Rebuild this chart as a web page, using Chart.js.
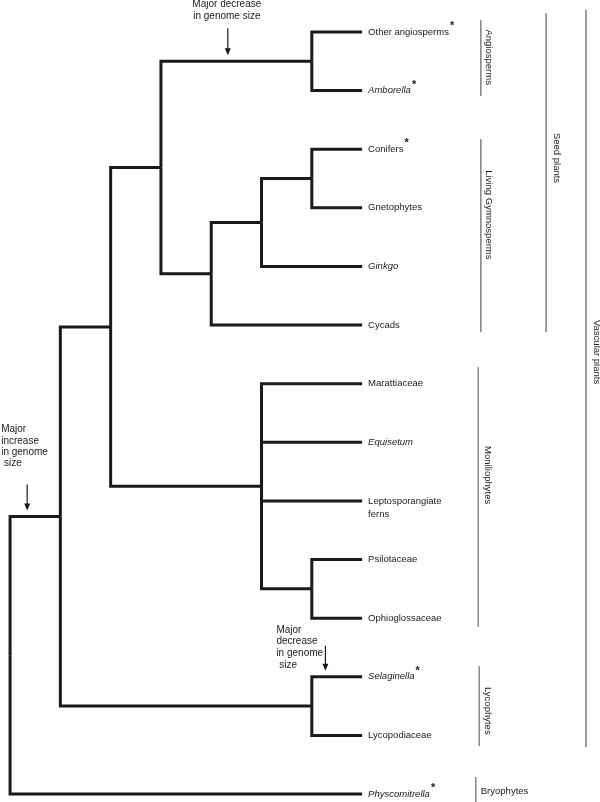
<!DOCTYPE html>
<html lang="en">
<head>
<meta charset="UTF-8">
<title>Land plant phylogeny</title>
<script src="https://cdn.jsdelivr.net/npm/chart.js"></script>
<style>
  html, body { margin: 0; padding: 0; background: #fff; }
  #wrap { width: 600px; height: 802px; }
</style>
</head>
<body>
<div id="wrap"><canvas id="tree" width="600" height="802"></canvas></div>
<script>
// tips, top to bottom (row = index)
const taxa = ['Other angiosperms', 'Amborella', 'Conifers', 'Gnetophytes', 'Ginkgo', 'Cycads',
  'Marattiaceae', 'Equisetum', 'Leptosporangiate\nferns', 'Psilotaceae', 'Ophioglossaceae',
  'Selaginella', 'Lycopodiaceae', 'Physcomitrella'];
const italicTaxa = ['Amborella', 'Ginkgo', 'Equisetum', 'Selaginella', 'Physcomitrella'];
const starredTaxa = ['Other angiosperms', 'Amborella', 'Conifers', 'Selaginella', 'Physcomitrella'];
const leafDepth = 7;

// internal nodes
const nodeIds = ['angio', 'coniGneto', 'gnetoGinkgo', 'gymno', 'seed', 'psiloOphio', 'monilo',
  'euphyllo', 'lyco', 'vascular', 'root'];
const nodeDepths = [6, 6, 5, 4, 3, 6, 5, 2, 6, 1, 0];
const nodeChildren = [
  ['Other angiosperms', 'Amborella'],
  ['Conifers', 'Gnetophytes'],
  ['coniGneto', 'Ginkgo'],
  ['gnetoGinkgo', 'Cycads'],
  ['angio', 'gymno'],
  ['Psilotaceae', 'Ophioglossaceae'],
  ['Marattiaceae', 'Equisetum', 'Leptosporangiate\nferns', 'psiloOphio'],
  ['seed', 'monilo'],
  ['Selaginella', 'Lycopodiaceae'],
  ['euphyllo', 'lyco'],
  ['vascular', 'Physcomitrella']
];

// clade bars on the right, spans in row units
const cladeNames = ['Angiosperms', 'Living Gymnosperms', 'Moniliophytes', 'Lycophytes', 'Bryophytes',
  'Seed plants', 'Vascular plants'];
const cladeStart = [-0.2, 1.83, 5.72, 10.82, 12.71, -0.32, -0.38];
const cladeEnd = [1.09, 5.12, 10.15, 12.18, 13.3, 5.12, 12.2];
const cladeLabelRow = [0.43, 3.12, 7.56, 11.58, 12.95, 2.15, 5.46];

// genome size events, placed on the branch leading to a node
const eventText = [['Major decrease', 'in genome size'], ['Major', 'increase', 'in genome', ' size'],
  ['Major', 'decrease', 'in genome', ' size']];
const eventBranch = ['angio', 'vascular', 'Selaginella'];
const eventDepth = [4.33, 0.34, 6.27];

// styles
const cladeBarX = [9.36, 9.36, 9.31, 9.33, 9.26, 10.66, 11.45];
const cladeLabelDx = [8, 8, 9, 8, 5, 10, 11];
const eventStyle = [
  { align: 'center', dx: -1, dy: -57, lh: 11.5, top: -33 },
  { align: 'left', dx: -26, dy: -87, lh: 11.4, top: -32 },
  { align: 'left', dx: -49, dy: -47, lh: 11.7, top: -31 }
];
const FONT = '"Liberation Sans", Arial, sans-serif';
const INK = '#1a1a1a';

function posOf(name) {
  const t = taxa.indexOf(name);
  if (t >= 0) return { x: leafDepth, y: t };
  const i = nodeIds.indexOf(name);
  const kids = nodeChildren[i];
  const a = posOf(kids[0]), b = posOf(kids[kids.length - 1]);
  return { x: nodeDepths[i], y: (a.y + b.y) / 2 };
}

const datasets = [];
nodeIds.forEach((id, i) => {
  const p = posOf(id);
  nodeChildren[i].forEach(c => {
    const q = posOf(c);
    datasets.push({
      data: [{ x: p.x, y: p.y }, { x: p.x, y: q.y }, { x: q.x, y: q.y }],
      borderColor: INK, borderWidth: 3, borderJoinStyle: 'miter', borderCapStyle: 'butt'
    });
  });
});
cladeNames.forEach((n, i) => {
  datasets.push({
    data: [{ x: cladeBarX[i], y: cladeStart[i] }, { x: cladeBarX[i], y: cladeEnd[i] }],
    borderColor: '#8a8a8a', borderWidth: 1
  });
});

const labelsPlugin = {
  id: 'treeLabels',
  afterDatasetsDraw(chart) {
    const ctx = chart.ctx, xs = chart.scales.x, ys = chart.scales.y;
    ctx.save();
    ctx.fillStyle = INK;
    ctx.textBaseline = 'middle';

    // tip labels
    taxa.forEach((t, i) => {
      const x = xs.getPixelForValue(leafDepth) + 6;
      const y = ys.getPixelForValue(i);
      ctx.font = (italicTaxa.includes(t) ? 'italic ' : '') + '9.5px ' + FONT;
      ctx.textAlign = 'left';
      const lines = t.split('\n');
      lines.forEach((l, k) => ctx.fillText(l, x, y + k * 13));
      if (starredTaxa.includes(t)) {
        const w = ctx.measureText(lines[0]).width;
        ctx.font = 'bold 11px ' + FONT;
        ctx.fillText('*', x + w + 1, y - 6);
      }
    });

    // clade labels
    ctx.font = '9.5px ' + FONT;
    cladeNames.forEach((n, i) => {
      const x = xs.getPixelForValue(cladeBarX[i]) + cladeLabelDx[i];
      const y = ys.getPixelForValue(cladeLabelRow[i]);
      if (n === 'Bryophytes') {
        ctx.textAlign = 'left';
        ctx.fillText(n, x, y);
        return;
      }
      ctx.save();
      ctx.translate(x, y);
      ctx.rotate(Math.PI / 2);
      ctx.textAlign = 'center';
      ctx.fillText(n, 0, 0);
      ctx.restore();
    });

    // genome size events with arrows
    eventText.forEach((lines, i) => {
      const s = eventStyle[i];
      const ax = xs.getPixelForValue(eventDepth[i]);
      const by = ys.getPixelForValue(posOf(eventBranch[i]).y);
      ctx.font = '10px ' + FONT;
      ctx.textAlign = s.align;
      lines.forEach((l, k) => ctx.fillText(l, ax + s.dx, by + s.dy + k * s.lh));
      const tip = by - 6, top = by + s.top;
      ctx.strokeStyle = INK;
      ctx.lineWidth = 1.2;
      ctx.beginPath();
      ctx.moveTo(ax, top);
      ctx.lineTo(ax, tip - 5);
      ctx.stroke();
      ctx.beginPath();
      ctx.moveTo(ax - 3, tip - 7);
      ctx.lineTo(ax + 3, tip - 7);
      ctx.lineTo(ax, tip);
      ctx.closePath();
      ctx.fill();
    });
    ctx.restore();
  }
};

new Chart(document.getElementById('tree'), {
  type: 'scatter',
  data: { datasets },
  options: {
    responsive: false,
    animation: false,
    showLine: true,
    layout: { padding: 0 },
    elements: { point: { radius: 0, hoverRadius: 0 }, line: { tension: 0 } },
    events: [],
    scales: {
      x: { type: 'linear', display: false, min: -0.2, max: 11.73 },
      y: { type: 'linear', display: false, reverse: true, min: -0.546, max: 13.136 }
    },
    plugins: { legend: { display: false }, tooltip: { enabled: false } }
  },
  plugins: [labelsPlugin]
});
</script>
</body>
</html>
